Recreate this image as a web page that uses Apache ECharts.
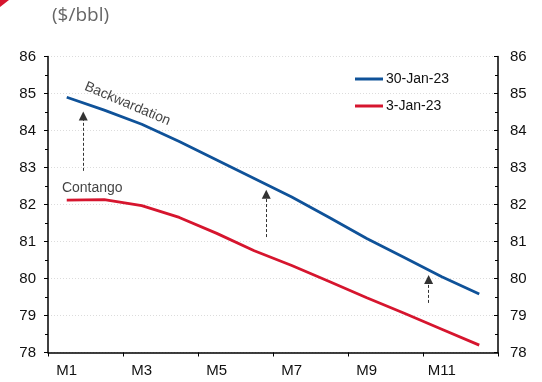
<!DOCTYPE html>
<html><head><meta charset="utf-8">
<script src="https://cdn.jsdelivr.net/npm/echarts@6/dist/echarts.min.js"></script>
<style>html,body{margin:0;padding:0;background:#fff}#c{width:542px;height:382px}</style>
</head><body><div id="c"></div>
<script>
var categories = ['M1','M2','M3','M4','M5','M6','M7','M8','M9','M10','M11','M12'];
var jan30 = [84.9, 84.55, 84.17, 83.7, 83.2, 82.7, 82.2, 81.65, 81.08, 80.57, 80.05, 79.58];
var jan3 = [82.12, 82.13, 81.97, 81.65, 81.22, 80.75, 80.35, 79.92, 79.48, 79.06, 78.63, 78.2];
var seriesNames = ['30-Jan-23', '3-Jan-23'];
// arrows: [month position, from value, to value]
var arrows = [[1.44, 82.91, 84.39], [6.32, 81.12, 82.28], [10.65, 79.34, 79.97]];
// annotations: [text, month position, value, rotation]
var notes = [['Backwardation', 2.62, 84.72, -23], ['Contango', 1.68, 82.45, 0]];
var yMin = 78, yMax = 86;

var font = 'Liberation Sans, Arial, sans-serif';
var chart = echarts.init(document.getElementById('c'));
var yAxisCommon = {
  type: 'value', min: yMin, max: yMax, interval: 1,
  axisLine: {show: true, lineStyle: {color: '#000', width: 1.5}},
  axisLabel: {color: '#111', fontSize: 15, fontFamily: font},
  minorTick: {show: true, splitNumber: 2, length: 3, lineStyle: {color: '#000', width: 1}},
  splitLine: {show: false}
};
chart.setOption({
  animation: false,
  grid: {left: 48, right: 44, top: 56.5, bottom: 29.5},
  graphic: [
    {type: 'text', left: 52, top: 6, style: {text: '($/bbl)', fill: '#666', font: '19px "Open Sans", sans-serif'}},
    {type: 'polygon', shape: {points: [[0,0],[9,0],[0,7]]}, style: {fill: '#d6152e'}}
  ],
  legend: {
    orient: 'vertical', left: 350, top: 67, itemGap: 13, itemWidth: 28, itemHeight: 3,
    icon: 'rect',
    data: seriesNames,
    textStyle: {color: '#111', fontSize: 14, fontFamily: font, padding: [0, 0, 0, -2]}
  },
  xAxis: [{
    type: 'category', data: categories, boundaryGap: true,
    axisLine: {lineStyle: {color: '#000', width: 1.5}},
    axisTick: {show: true, length: 4, alignWithLabel: false, lineStyle: {color: '#000'}},
    axisLabel: {interval: 1, color: '#111', fontSize: 15, fontFamily: font, margin: 11},
    splitLine: {show: false}
  }, {
    type: 'value', min: 0.5, max: 12.5, show: false
  }],
  yAxis: [
    Object.assign({}, yAxisCommon, {
      position: 'left',
      axisTick: {show: true, length: 4, inside: false, lineStyle: {color: '#000'}},
      axisLabel: Object.assign({}, yAxisCommon.axisLabel, {margin: 12}),
      splitLine: {show: true, lineStyle: {color: '#dcdcdc', type: [1, 2], width: 1}}
    }),
    Object.assign({}, yAxisCommon, {
      position: 'right',
      axisTick: {show: true, length: 4, inside: true, lineStyle: {color: '#000'}},
      minorTick: {show: true, splitNumber: 2, length: 3, lineStyle: {color: '#000'}},
      axisLabel: Object.assign({}, yAxisCommon.axisLabel, {margin: 12})
    })
  ],
  series: [
    {name: seriesNames[0], type: 'line', data: jan30, symbol: 'none', smooth: false,
     lineStyle: {color: '#0f5299', width: 2.8}, itemStyle: {color: '#0f5299'}},
    {name: seriesNames[1], type: 'line', data: jan3, symbol: 'none', smooth: false,
     lineStyle: {color: '#d6152e', width: 2.8}, itemStyle: {color: '#d6152e'}},
    {type: 'lines', coordinateSystem: 'cartesian2d', xAxisIndex: 1, yAxisIndex: 0,
     symbol: ['none', 'triangle'], symbolSize: 9,
     lineStyle: {color: '#333', width: 1, type: [3, 2], opacity: 1},
     data: arrows.map(function (a) { return {coords: [[a[0], a[1]], [a[0], a[2]]]}; })},
    {type: 'scatter', xAxisIndex: 1, yAxisIndex: 0, symbolSize: 0, silent: true,
     data: notes.map(function (n) {
       return {value: [n[1], n[2]], label: {show: true, formatter: n[0], position: 'inside', rotate: n[3],
         color: '#111', fontSize: 14, fontFamily: font}};
     })}
  ]
});
</script></body></html>
